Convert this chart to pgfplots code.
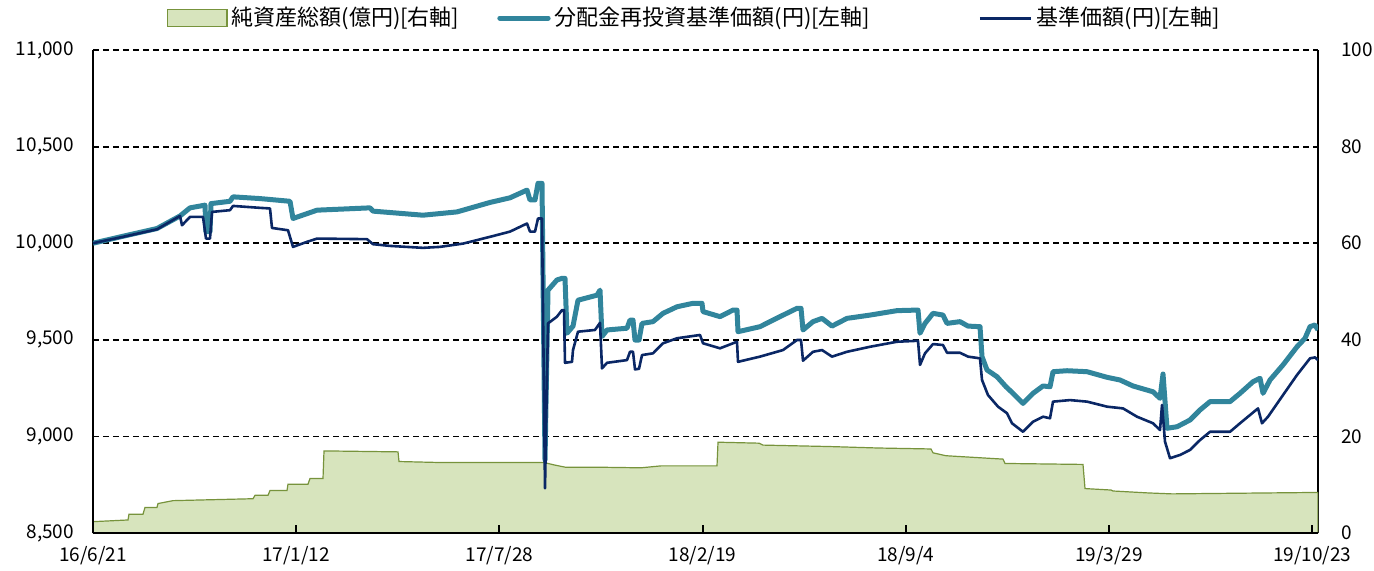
\documentclass[border=0pt]{standalone}
\usepackage{fontspec}
\setmainfont{Noto Sans CJK JP}
\usepackage{pgfplots}
\pgfplotsset{compat=1.18}
\definecolor{cteal}{HTML}{31859C}
\definecolor{cnavy}{HTML}{0A2765}
\definecolor{areafill}{HTML}{D7E4BD}
\definecolor{areadraw}{HTML}{77933C}
\begin{document}
\begin{tikzpicture}
\begin{axis}[
  at={(0,0)}, anchor=south west, scale only axis,
  width=612.5pt, height=241.5pt,
  xmin=0, xmax=1225, ymin=0, ymax=100,
  axis x line=none, axis y line=right,
  axis line style={-, line width=1pt, black},
  ytick={0,20,...,100}, major tick length=0pt,
  yticklabel style={font=\fontsize{9.5}{11}\selectfont, xshift=8pt},
  /pgf/number format/assume math mode=true,
]
\addplot[fill=areafill, draw=areadraw, line width=0.6pt] coordinates {
(0,2.35) (35,2.7) (36,3.9) (50,3.9) (52,5.3) (64,5.3) (65,6.1) (80,6.7)
(160,7.1) (162,7.8) (175,7.8) (177,8.8) (194,8.8) (195,10.1) (215,10.1)
(217,11.3) (230,11.3) (231,17.0) (305,16.8) (306,14.8) (346,14.6) (451,14.6)
(461,14.1) (473,13.6) (513,13.6) (548,13.5) (568,13.9) (624,13.9) (625,18.8)
(666,18.6) (670,18.2) (737,17.9) (785,17.6) (838,17.4) (840,16.6) (853,16.0)
(910,15.3) (912,14.4) (990,14.2) (992,9.2) (1018,8.9) (1020,8.7) (1055,8.3)
(1079,8.1) (1225,8.4)
} \closedcycle;
\end{axis}
\begin{axis}[
  at={(0,0)}, anchor=south west, scale only axis,
  width=612.5pt, height=241.5pt,
  xmin=0, xmax=1225, ymin=8500, ymax=11000,
  axis x line=bottom, axis y line=left,
  axis line style={-, line width=1pt, black},
  ytick={8500,9000,...,11000}, scaled y ticks=false,
  ymajorgrids, grid style={black, line width=0.9pt, dash pattern=on 3pt off 2pt},
  xtick={0,203.2,406.4,609.6,812.8,1016,1219.2},
  xticklabels={16/6/21,17/1/12,17/7/28,18/2/19,18/9/4,19/3/29,19/10/23},
  tick align=inside, major tick length=4pt,
  x tick style={black, line width=1pt},
  y tick style={draw=none},
  yticklabel style={font=\fontsize{9.5}{11}\selectfont, xshift=-6pt},
  xticklabel style={font=\fontsize{9.5}{11}\selectfont, yshift=-3pt},
  legend columns=3,
  legend style={draw=none, fill=none, at={(0.5,1)}, anchor=center, yshift=16pt, xshift=-5pt,
    font=\fontsize{11}{13}\selectfont,
    /tikz/column 2/.style={column sep=17pt},
    /tikz/column 4/.style={column sep=52pt}},
  /pgf/number format/.cd, fixed, 1000 sep={,}, assume math mode=true,
]
\addlegendimage{legend image code/.code={\draw[fill=areafill,draw=areadraw,line width=0.6pt] (0cm,-0.15cm) rectangle (1.05cm,0.15cm);}}
\addlegendentry{純資産総額(億円)[右軸]}
\addplot[cteal, line width=2.5pt, line join=round,
  legend image code/.code={\draw[cteal,line width=2.5pt,line cap=round] (0cm,0cm) -- (0.85cm,0cm);}] coordinates {
(0,10000) (30,10036) (64,10076) (87,10141) (97,10183) (112,10197) (113,10060)
(117,10060) (118,10205) (137,10217) (140,10240) (167,10231) (197,10217)
(200,10128) (224,10171) (277,10183) (280,10166) (330,10145) (364,10162)
(397,10211) (417,10235) (434,10275) (437,10224) (442,10224) (445,10310)
(449,10310) (452,8878) (455,9757) (464,9810) (469,9818) (472,9818) (474,9534)
(480,9571) (485,9705) (504,9731) (507,9757) (509,9517) (514,9551) (534,9560)
(537,9602) (540,9602) (542,9499) (546,9499) (549,9585) (560,9594) (570,9637)
(584,9671) (600,9689) (609,9689) (610,9646) (627,9620) (640,9654) (644,9654)
(645,9542) (667,9568) (687,9620) (704,9663) (708,9663) (710,9551) (720,9594)
(729,9611) (739,9571) (754,9611) (777,9628) (804,9651) (825,9654) (827,9534)
(832,9585) (840,9637) (850,9628) (854,9585) (867,9594) (875,9571) (887,9568)
(889,9413) (894,9344) (904,9309) (913,9257) (920,9223) (930,9171) (940,9223)
(950,9261) (957,9257) (960,9335) (974,9340) (994,9335) (1014,9306) (1027,9292)
(1040,9261) (1060,9231) (1067,9197) (1070,9323) (1074,9042) (1084,9050)
(1097,9085) (1107,9137) (1117,9180) (1137,9180) (1147,9223) (1160,9283)
(1167,9301) (1170,9223) (1177,9292) (1190,9370) (1204,9464) (1212,9508)
(1217,9568) (1222,9577) (1225,9551)
};
\addlegendentry{分配金再投資基準価額(円)[左軸]}
\addplot[cnavy, line width=1.3pt, line join=round,
  legend image code/.code={\draw[cnavy,line width=1.5pt] (0cm,0cm) -- (0.9cm,0cm);}] coordinates {
(0,10000) (30,10033) (64,10072) (87,10141) (89,10093) (97,10136) (110,10136)
(113,10024) (117,10024) (119,10162) (137,10171) (140,10193) (167,10183)
(177,10180) (179,10079) (195,10067) (200,9981) (214,10007) (224,10024)
(274,10021) (280,9995) (297,9986) (330,9976) (347,9981) (370,9998) (397,10033)
(417,10060) (434,10102) (437,10060) (442,10060) (445,10128) (449,10128)
(452,8731) (455,9585) (464,9620) (469,9654) (471,9654) (472,9381) (479,9386)
(480,9447) (485,9542) (502,9551) (507,9588) (509,9352) (514,9381) (534,9395)
(537,9438) (540,9438) (542,9347) (546,9350) (549,9421) (560,9430) (570,9482)
(584,9508) (607,9525) (610,9482) (627,9456) (644,9490) (645,9386) (667,9413)
(690,9447) (704,9499) (708,9499) (710,9392) (720,9438) (729,9447) (739,9413)
(754,9438) (777,9464) (804,9490) (825,9495) (827,9370) (832,9430) (840,9478)
(850,9473) (854,9433) (867,9433) (875,9413) (887,9404) (889,9292) (895,9214)
(905,9154) (914,9120) (919,9068) (930,9024) (940,9076) (950,9102) (957,9094)
(960,9180) (977,9188) (994,9180) (1014,9154) (1030,9145) (1044,9102)
(1060,9068) (1067,9033) (1069,9163) (1072,8973) (1077,8887) (1087,8904)
(1097,8930) (1107,8981) (1117,9024) (1137,9024) (1147,9068) (1165,9145)
(1169,9068) (1175,9102) (1190,9214) (1204,9318) (1217,9404) (1222,9409)
(1225,9395)
};
\addlegendentry{基準価額(円)[左軸]}
\end{axis}
\pgfresetboundingbox
\path (-46.5pt,-18.5pt) rectangle (640.5pt,266.5pt);
\end{tikzpicture}
\end{document}
